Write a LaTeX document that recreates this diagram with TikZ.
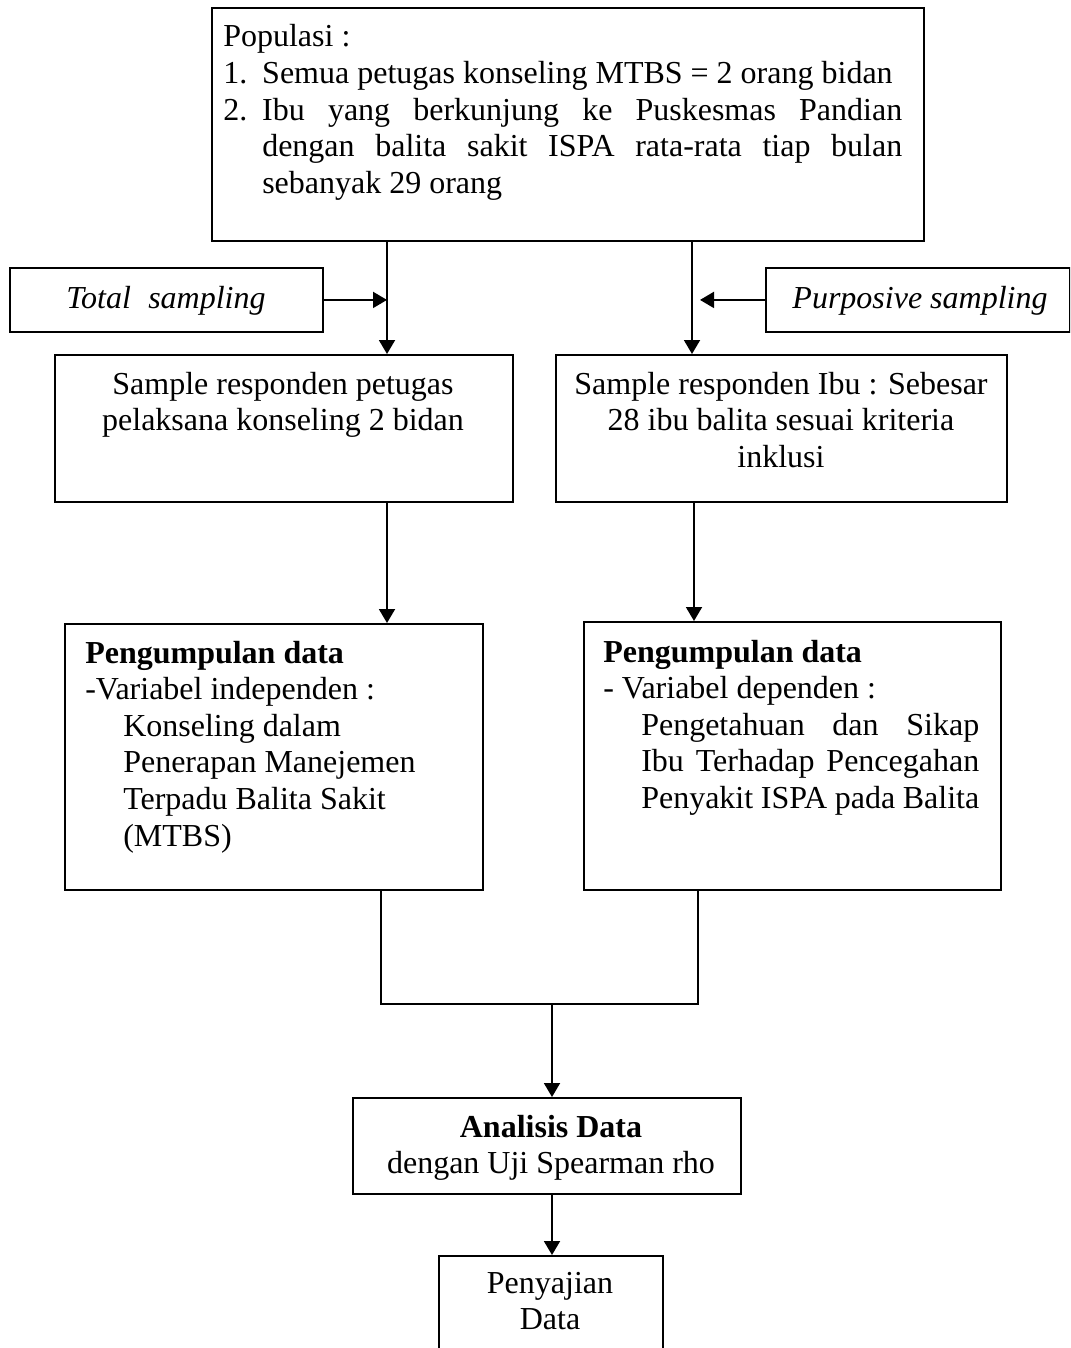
\documentclass[tikz,border=0pt]{standalone}
\usepackage{fontspec}
\setmainfont{Liberation Serif}
\usetikzlibrary{arrows.meta}
\tikzset{
  box/.style={draw, line width=1.4pt, rectangle, inner sep=0pt, anchor=north west},
  txt/.style={inner sep=0pt, font=\fontsize{24pt}{27.45pt}\selectfont},
  link/.style={line width=1.4pt},
  arr/.style={line width=1.4pt, -{Triangle[length=10.5pt,width=12pt]}}
}
\begin{document}
\begin{tikzpicture}[x=0.75pt,y=-0.75pt]
\useasboundingbox (0,0) rectangle (1070,1348);
\fill[white] (0,0) rectangle (1070,1348);
\clip (0,0) rectangle (1070,1348);

% boxes
\node[box, minimum width=534pt, minimum height=174.75pt] (pop) at (211,7) {};
\node[box, minimum width=234.75pt, minimum height=48pt] (total) at (9,267) {};
\node[box, minimum width=228pt, minimum height=48pt] (purp) at (765,267) {};
\node[box, minimum width=343.5pt, minimum height=110.25pt] (s1) at (54,354) {};
\node[box, minimum width=338.25pt, minimum height=110.25pt] (s2) at (555,354) {};
\node[box, minimum width=313.5pt, minimum height=199.5pt] (p1) at (64,623) {};
\node[box, minimum width=312.75pt, minimum height=201pt] (p2) at (583,621) {};
\node[box, minimum width=291pt, minimum height=72pt] (ana) at (352,1097) {};
\node[box, minimum width=168pt, minimum height=86.25pt] (pen) at (438,1255) {};

% texts
\node[txt, anchor=base west] (poptext) at (223,47) {\parbox[t]{509.25pt}{\parindent=0pt
Populasi :\par
\makebox[29.25pt][l]{1.}Semua petugas konseling MTBS = 2 orang bidan\par
\hangindent=29.25pt \hangafter=1 \makebox[29.25pt][l]{2.}Ibu yang berkunjung ke Puskesmas Pandian\linebreak dengan balita sakit ISPA rata-rata tiap bulan\linebreak sebanyak 29 orang\par}};

\node[txt, anchor=base] (totaltext) at (166,308) {\itshape Total\hspace{13pt}sampling};
\node[txt, anchor=base] (purptext) at (920,308) {\itshape Purposive sampling};

\node[txt, anchor=base] (s1text) at (283,394) {\parbox[t]{330pt}{\centering Sample responden petugas\\ pelaksana konseling 2 bidan}};
\node[txt, anchor=base] (s2text) at (781,394) {\parbox[t]{330pt}{\centering Sample responden Ibu : Sebesar\\ 28 ibu balita sesuai kriteria\\ inklusi}};

\node[txt, anchor=base west] (p1text) at (85,663) {\parbox[t]{300pt}{\parindent=0pt
\textbf{Pengumpulan data}\\
-Variabel independen :\\
\hspace*{28.5pt}Konseling dalam\\
\hspace*{28.5pt}Penerapan Manejemen\\
\hspace*{28.5pt}Terpadu Balita Sakit\\
\hspace*{28.5pt}(MTBS)}};

\node[txt, anchor=base west] (p2text) at (603,662) {\parbox[t]{282pt}{\parindent=0pt
\textbf{Pengumpulan data}\\
- Variabel dependen :\par
{\leftskip=28.5pt Pengetahuan dan Sikap\linebreak Ibu Terhadap Pencegahan\linebreak Penyakit ISPA pada Balita\par}}};

\node[txt, anchor=base] (anatext) at (551,1137) {\parbox[t]{290pt}{\centering \textbf{Analisis Data}\\ dengan Uji Spearman rho}};
\node[txt, anchor=base] (pentext) at (550,1293) {\parbox[t]{160pt}{\centering Penyajian\\ Data}};

% coordinates for connector x-positions
\coordinate (xL) at (387,0);
\coordinate (xR) at (692,0);
\coordinate (xR2) at (694,0);
\coordinate (xRt) at (700,0);
\coordinate (jl) at (381,0);
\coordinate (jr) at (698,0);
\coordinate (jm) at (552,1004);

% connectors
\draw[arr] (pop.south -| xL) -- (s1.north -| xL);
\draw[arr] (pop.south -| xR) -- (s2.north -| xR);
\draw[arr] (total.east) -- (total.east -| xL);
\draw[arr] (purp.west) -- (purp.west -| xRt);
\draw[arr] (s1.south -| xL) -- (p1.north -| xL);
\draw[arr] (s2.south -| xR2) -- (p2.north -| xR2);
\draw[link] (p1.south -| jl) |- (jm) -| (p2.south -| jr);
\draw[arr] (jm) -- (ana.north -| jm);
\draw[arr] (ana.south -| jm) -- (pen.north -| jm);
\end{tikzpicture}
\end{document}
